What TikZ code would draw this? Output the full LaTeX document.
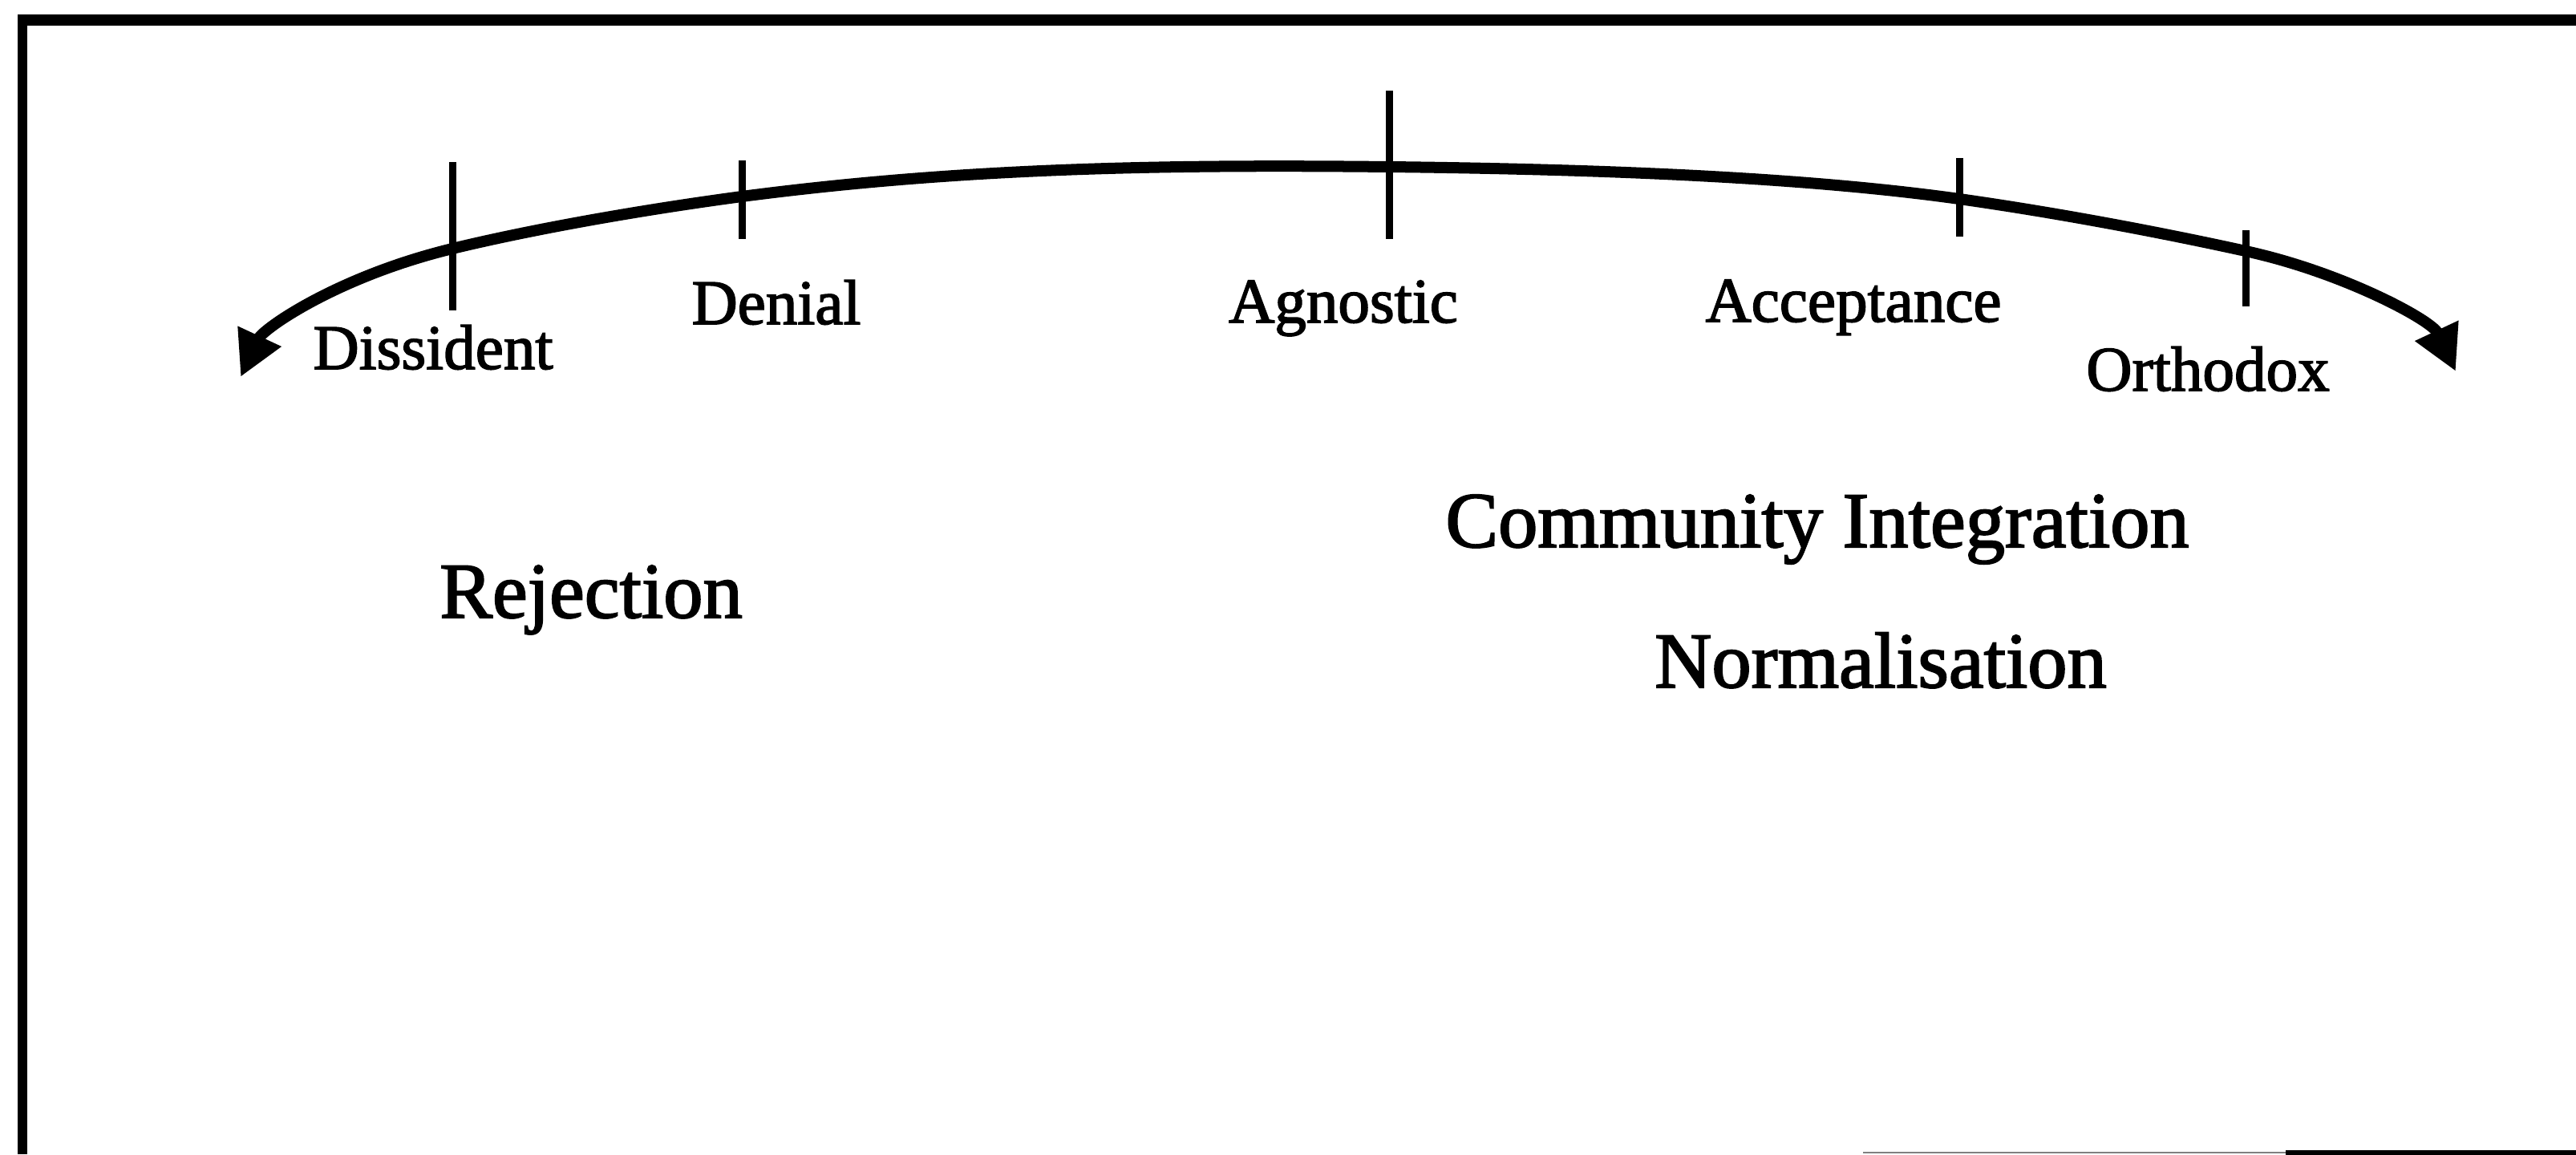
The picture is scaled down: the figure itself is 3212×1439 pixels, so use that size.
\documentclass[tikz,border=0pt]{standalone}
\usepackage{fontspec}
\setmainfont[FakeBold=2]{Liberation Serif}
\usetikzlibrary{arrows.meta}

\begin{document}
\begin{tikzpicture}[
  x=0.01cm, y=-0.01cm,
  border/.style={line width=0.12cm, black},
  scale arc/.style={line width=0.14cm, black,
    {Triangle[length=0.56cm, width=0.56cm]}-{Triangle[length=0.56cm, width=0.56cm]}},
  tickline/.style={line width=0.09cm, black},
  stance/.style={font=\fontsize{22.5}{27}\selectfont, inner sep=0pt, anchor=base},
  phase/.style={font=\fontsize{28}{34}\selectfont, inner sep=0pt, anchor=base},
]
\useasboundingbox (0,0) rectangle (3212,1439);

% Frame
\draw[border] (28,19) -- (28,1439);
\draw[border, line width=0.13cm] (22,25) -- (3212,25);
\draw[gray, line width=0.02cm] (2323,1437) -- (2850,1437);
\draw[border, line width=0.1cm] (2850,1439) -- (3212,1439);

% Points on the scale
\coordinate (ltip) at (300,470);
\coordinate (dis) at (564,310);
\coordinate (den) at (925,245);
\coordinate (agn) at (1732,208);
\coordinate (acc) at (2443,248);
\coordinate (orth) at (2800,313);
\coordinate (rtip) at (3062,463);

% Scale
\draw[scale arc] (ltip)
  .. controls (328,410) and (420,345) .. (dis)
  .. controls (680,282) and (820,259) .. (den)
  .. controls (1200,209) and (1450,205) .. (agn)
  .. controls (2000,211) and (2250,221) .. (acc)
  .. controls (2570,266) and (2700,291) .. (orth)
  .. controls (2920,339) and (3032,399) .. (rtip);

\draw[tickline] (dis) ++(0,-108) -- ++(0,185);
\draw[tickline] (den) ++(0,-45) -- ++(0,98);
\draw[tickline] (agn) ++(0,-95) -- ++(0,185);
\draw[tickline] (acc) ++(0,-51) -- ++(0,98);
\draw[tickline] (orth) ++(0,-26) -- ++(0,95);

% Labels below
\node[stance] (ldis) at (540,460) {Dissident};
\node[stance] (lden) at (968,404) {Denial};
\node[stance] (lagn) at (1675,402) {Agnostic};
\node[stance] (lacc) at (2311,401) {Acceptance};
\node[stance] (lorth) at (2753,487) {Orthodox};

% Phases
\node[phase] (rej) at (737,770) {Rejection};
\node[phase] (ci) at (2266,682) {Community Integration};
\node[phase] (norm) at (2345,857) {Normalisation};

\end{tikzpicture}
\end{document}
